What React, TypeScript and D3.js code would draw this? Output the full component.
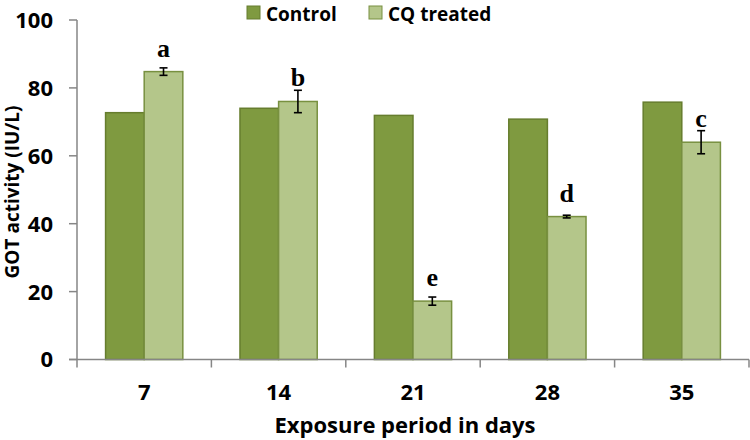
import React from 'react';
import { scaleBand, scaleLinear } from 'd3';

const days = ['7', '14', '21', '28', '35'];
const seriesNames = ['Control', 'CQ treated'];
const controlValues = [72.7, 74.0, 71.9, 70.8, 75.8];
const treatedValues = [84.8, 76.0, 17.2, 42.1, 64.0];
const treatedErrors = [1.1, 3.3, 1.2, 0.4, 3.4];
const treatedLetters = ['a', 'b', 'e', 'd', 'c'];
const yTicks = [0, 20, 40, 60, 80, 100];

const width = 750;
const height = 440;
const left = 77;
const right = 749;
const top = 20;
const bottom = 359.5;

const fills = ['#7f9a40', '#b4c68a'];
const strokes = ['#667d2e', '#789040'];
const axisColor = '#868686';
const sans = '"Open Sans", sans-serif';

const App = () => {
  const xScale = scaleBand().domain(days).range([left, right]).padding(0);
  const inner = scaleBand()
    .domain(seriesNames)
    .range([0, xScale.bandwidth()])
    .paddingInner(0)
    .paddingOuter(0.74);
  const yScale = scaleLinear().domain([0, 100]).range([bottom, top]);

  const values = [controlValues, treatedValues];
  const boundaries = days.map(d => xScale(d)).concat([right]);

  return (
    <svg width={width} height={height} style={{ position: 'absolute', left: 0, top: 0 }}>
      <rect x={0} y={0} width={width} height={height} fill="#fff" />

      {/* legend */}
      {seriesNames.map((s, i) => {
        const lx = i === 0 ? 247 : 369;
        return (
          <g key={s}>
            <rect x={lx} y={6} width={13} height={13} fill={fills[i]} stroke={strokes[i]} strokeWidth={1} />
            <text x={lx + 19} y={20.5} fontFamily={sans} fontWeight={700} fontSize={19} fill="#000">{s}</text>
          </g>
        );
      })}

      {/* bars */}
      {days.map((d, di) => (
        <g key={d} transform={`translate(${xScale(d)},0)`}>
          {seriesNames.map((s, si) => (
            <rect
              key={s}
              x={inner(s)}
              y={yScale(values[si][di])}
              width={inner.bandwidth()}
              height={bottom - yScale(values[si][di])}
              fill={fills[si]}
              stroke={strokes[si]}
              strokeWidth={1.5}
            />
          ))}
        </g>
      ))}

      {/* error bars and letters */}
      {days.map((d, di) => {
        const cx = xScale(d) + inner('CQ treated') + inner.bandwidth() / 2;
        const y1 = yScale(treatedValues[di] + treatedErrors[di]);
        const y2 = yScale(treatedValues[di] - treatedErrors[di]);
        return (
          <g key={d}>
            <line x1={cx} x2={cx} y1={y1} y2={y2} stroke="#000" strokeWidth={1.6} />
            <line x1={cx - 4} x2={cx + 4} y1={y1} y2={y1} stroke="#000" strokeWidth={1.6} />
            <line x1={cx - 4} x2={cx + 4} y1={y2} y2={y2} stroke="#000" strokeWidth={1.6} />
            <text
              x={cx}
              y={yScale(treatedValues[di]) - 15}
              textAnchor="middle"
              fontFamily='"Liberation Serif", serif'
              fontWeight={700}
              fontSize={26}
              fill="#000"
            >
              {treatedLetters[di]}
            </text>
          </g>
        );
      })}

      {/* y axis */}
      <line x1={left} x2={left} y1={top} y2={bottom} stroke={axisColor} strokeWidth={1.5} />
      {yTicks.map(t => (
        <g key={t}>
          <line x1={left - 8} x2={left} y1={yScale(t)} y2={yScale(t)} stroke={axisColor} strokeWidth={1.5} />
          <text
            x={53}
            y={yScale(t)}
            dy="0.36em"
            textAnchor="end"
            fontFamily={sans}
            fontWeight={700}
            fontSize={22}
            fill="#000"
          >
            {t}
          </text>
        </g>
      ))}

      {/* x axis */}
      <line x1={left - 8} x2={right} y1={bottom} y2={bottom} stroke={axisColor} strokeWidth={1.5} />
      {boundaries.map((b, i) => (
        <line key={i} x1={b} x2={b} y1={bottom} y2={bottom + 8} stroke={axisColor} strokeWidth={1.5} />
      ))}
      {days.map(d => (
        <text
          key={d}
          x={xScale(d) + xScale.bandwidth() / 2}
          y={400}
          textAnchor="middle"
          fontFamily={sans}
          fontWeight={700}
          fontSize={22}
          fill="#000"
        >
          {d}
        </text>
      ))}

      <text
        x={405}
        y={433}
        textAnchor="middle"
        fontFamily={sans}
        fontWeight={700}
        fontSize={22}
        fill="#000"
      >
        Exposure period in days
      </text>
      <text
        transform={`translate(19,192) rotate(-90)`}
        textAnchor="middle"
        fontFamily={sans}
        fontWeight={700}
        fontSize={19}
        fill="#000"
      >
        GOT activity (IU/L)
      </text>
    </svg>
  );
};

export default App;
